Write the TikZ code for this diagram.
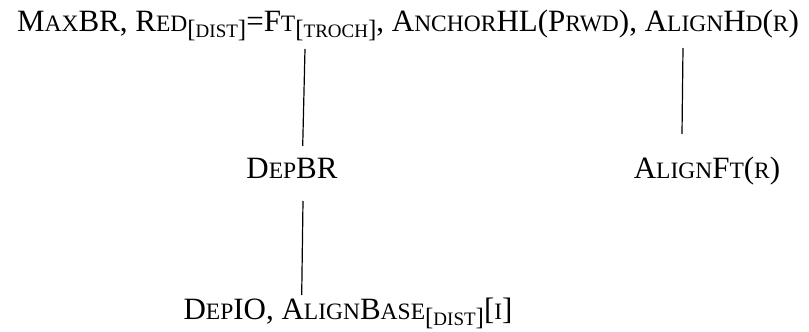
\documentclass[tikz,border=0pt]{standalone}
\usepackage{fontspec}
\setmainfont{Liberation Serif}
\newcommand\sml[1]{{\fontsize{23.5}{26}\selectfont #1}}
\newcommand\subsc[1]{\raisebox{-6pt}{\fontsize{25}{27}\selectfont[{\fontsize{19}{21}\selectfont #1}]}}
\begin{document}
\begin{tikzpicture}[x=1pt,y=-1pt,
  lbl/.style={inner sep=0pt, anchor=base, font=\fontsize{31}{36}\selectfont},
  conn/.style={draw=black, line width=1.2pt}]
\useasboundingbox (0,0) rectangle (809,332);
\node[lbl] (top) at (408,31) {M\sml{AX}BR, R\sml{ED}\subsc{DIST}=F\sml{T}\subsc{TROCH}, A\sml{NCHOR}HL(P\sml{RWD}), A\sml{LIGN}H\sml{D}(\sml{R})};
\node[lbl] (depbr) at (292,178) {D\sml{EP}BR};
\node[lbl] (alignft) at (707,178) {A\sml{LIGN}F\sml{T}(\sml{R})};
\node[lbl] (depio) at (348,319) {D\sml{EP}IO, A\sml{LIGN}B\sml{ASE}\subsc{DIST}[\sml{I}]};
\coordinate (a1) at (305,49);
\coordinate (a2) at (302.7,146);
\coordinate (b1) at (683,48);
\coordinate (b2) at (682,134);
\coordinate (c1) at (303,201);
\coordinate (c2) at (301.7,295);
\draw[conn] (a1) -- (a2);
\draw[conn] (b1) -- (b2);
\draw[conn] (c1) -- (c2);
\end{tikzpicture}
\end{document}
